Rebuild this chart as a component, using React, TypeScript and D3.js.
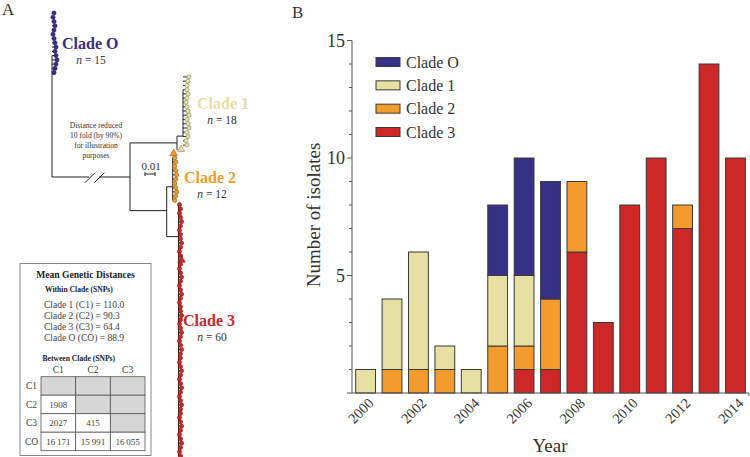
import React from 'react'
import * as d3 from 'd3'

// panel B data
const years = [2000, 2001, 2002, 2003, 2004, 2005, 2006, 2007, 2008, 2009, 2010, 2011, 2012, 2013, 2014]
const cladeO = [0, 0, 0, 0, 0, 3, 5, 5, 0, 0, 0, 0, 0, 0, 0]
const clade1 = [1, 3, 5, 1, 1, 3, 3, 0, 0, 0, 0, 0, 0, 0, 0]
const clade2 = [0, 1, 1, 1, 0, 2, 1, 3, 3, 0, 0, 0, 1, 0, 0]
const clade3 = [0, 0, 0, 0, 0, 0, 1, 1, 6, 3, 8, 10, 7, 14, 10]
const yTicks = [5, 10, 15]
const xTickYears = [2000, 2002, 2004, 2006, 2008, 2010, 2012, 2014]

// panel A data
const cladeNames = ['Clade O', 'Clade 1', 'Clade 2', 'Clade 3']
const cladeN = [15, 18, 12, 60]
const cladeStem = [0.0, 0.131, 0.1207, 0.1265] // distance of each clade's stem
const tipsO = [0.001, 0.0, 0.001, 0.002, 0.001, 0.0, 0.001, 0.002, 0.003, 0.002, 0.003, 0.004, 0.003, 0.002, 0.001]
const tips1 = [0.005, 0.004, 0.003, 0.003, 0.004, 0.003, 0.002, 0.003, 0.004, 0.005, 0.003, 0.004, 0.005, 0.003, 0.004, 0.002, 0.003, -0.003]
const tips2 = [0.0, 0.001, 0.002, 0.001, 0.002, 0.003, 0.002, 0.001, 0.002, 0.003, 0.002, 0.001]
const tips3 = [
  0.0, 0.001, 0.0, 0.001, 0.002, 0.001, 0.0, 0.001, 0.001, 0.002, 0.001, 0.0, 0.001, 0.002, 0.001,
  0.0, 0.001, 0.002, 0.001, 0.0, 0.001, 0.002, 0.001, 0.0, 0.001, 0.001, 0.002, 0.001, 0.0, 0.001,
  0.002, 0.001, 0.0, 0.001, 0.002, 0.001, 0.001, 0.0, 0.001, 0.002, 0.001, 0.0, 0.001, 0.002, 0.001,
  0.0, 0.001, 0.002, 0.001, 0.001, 0.0, 0.001, 0.002, 0.001, 0.0, 0.001, 0.002, 0.001, 0.0, 0.001,
]
const triangleTips = [32, 33, 58]
// internal branches: [dist1, idx1, dist2, idx2]
const branches = [
  [0.0, 10, 0.0, 38.5],
  [0.0, 38.5, 0.037, 38.5],
  [0.047, 38.5, 0.078, 38.5],
  [0.078, 30.5, 0.078, 46.4],
  [0.078, 30.5, 0.125, 30.5],
  [0.125, 28.9, 0.125, 32.2],
  [0.125, 28.9, 0.131, 28.9],
  [0.131, 18, 0.131, 28.9],
  [0.078, 46.4, 0.1147, 46.4],
  [0.1147, 40.8, 0.1147, 52.5],
  [0.1147, 40.8, 0.1207, 40.8],
  [0.1207, 34, 0.1207, 44],
  [0.1147, 52.5, 0.1265, 52.5],
  [0.1265, 45, 0.1265, 104],
]
const withinLabels = ['Clade 1 (C1) = 110.0', 'Clade 2 (C2) = 90.3', 'Clade 3 (C3) = 64.4', 'Clade O (CO) = 88.9']
const tableCols = ['C1', 'C2', 'C3']
const tableRows = ['C1', 'C2', 'C3', 'CO']
const tableValues = [
  [null, null, null],
  ['1908', null, null],
  ['2027', '415', null],
  ['16\u2009171', '15\u2009991', '16\u2009055'],
]

const colors = ['#382f86', '#e6e0a2', '#f39c2d', '#cc2828']
const tipStroke = ['#1d1850', '#8a8660', '#8a5a18', '#7a1515']
const serif = 'Liberation Serif'

const App = () => {
  const width = 750
  const height = 457

  // ---- panel B
  const x = d3.scaleBand<number>().domain(years).range([352, 749]).paddingInner(0.25).paddingOuter(0.14)
  const y = d3.scaleLinear().domain([0, 15]).range([393, 40.5])
  const table = years.map((yr, i) => ({ year: yr, c3: clade3[i], c2: clade2[i], c1: clade1[i], cO: cladeO[i] }))
  const keys = ['c3', 'c2', 'c1', 'cO']
  const keyColor = [colors[3], colors[2], colors[1], colors[0]]
  const series = d3.stack<any>().keys(keys)(table)
  const legend = [0, 1, 2, 3]
  const legendY = d3.scalePoint<number>().domain(legend).range([62, 132])

  // ---- panel A
  const tx = d3.scaleLinear().domain([0, 0.14]).range([52, 192])
  const ty = d3.scaleLinear().domain([0, 104]).range([13, 456])
  const tipLists = [tipsO, tips1, tips2, tips3]
  let idx = 0
  const tips: { c: number; i: number; d: number }[] = []
  tipLists.forEach((list, c) => {
    list.forEach((off) => {
      tips.push({ c, i: idx, d: cladeStem[c] + off })
      idx++
    })
  })

  const cellX = d3.scaleBand<number>().domain([0, 1, 2]).range([41, 145])
  const cellY = d3.scaleBand<number>().domain([0, 1, 2, 3]).range([376.7, 450.7])

  // label anchors for the clade names (start x, baseline y) and the n = .. line centre
  const cladeLabelPos = [
    [62, 49, 91],
    [197, 109, 222],
    [184, 183, 212],
    [183, 326, 212],
  ]

  return (
    <svg width={width} height={height} style={{ position: 'absolute', left: 0, top: 0, fontFamily: serif }}>
      <rect width={width} height={height} fill="#fff" />
      <text x={2} y={15} fontSize={17} fill="#333">A</text>
      <text x={292} y={18} fontSize={17} fill="#333">B</text>

      {/* tree */}
      <g stroke="#222" strokeWidth={1} fill="none">
        {branches.map((b, i) => (
          <line key={i} x1={tx(b[0])} y1={ty(b[1])} x2={tx(b[2])} y2={ty(b[3])} />
        ))}
        {tips.map((t) => (
          <line key={'b' + t.i} x1={tx(cladeStem[t.c])} x2={tx(t.d)} y1={ty(t.i)} y2={ty(t.i)} />
        ))}
        <line x1={85} y1={182.7} x2={95} y2={172.7} />
        <line x1={94.3} y1={182.7} x2={104.3} y2={172.7} />
      </g>
      {tips.map((t) =>
        triangleTips.includes(t.i) ? (
          <path
            key={t.i}
            d={d3.symbol(d3.symbolTriangle, 24)() as string}
            transform={`translate(${tx(t.d) + 1},${ty(t.i)})`}
            fill={colors[t.c]}
            stroke={tipStroke[t.c]}
            strokeWidth={0.6}
          />
        ) : (
          <circle key={t.i} cx={tx(t.d) + 1} cy={ty(t.i)} r={2.1} fill={colors[t.c]} stroke={tipStroke[t.c]} strokeWidth={0.6} />
        )
      )}
      {/* clade labels */}
      {cladeNames.map((name, c) => {
        const pos = cladeLabelPos[c]
        return (
          <g key={name}>
            <text x={pos[0]} y={pos[1]} fontSize={16} fontWeight="bold" fill={colors[c]}>
              {name}
            </text>
            <text x={pos[2]} y={pos[1] + 14.5} textAnchor="middle" fontSize={11.5} fill="#333">
              <tspan fontStyle="italic">n</tspan> = {cladeN[c]}
            </text>
          </g>
        )
      })}
      <g fontSize={7.6} fill="#333" textAnchor="middle">
        <text x={96} y={128}>Distance reduced</text>
        <text x={96} y={138}>10 fold (by 90%)</text>
        <text x={96} y={148}>for illustration</text>
        <text x={96} y={158}>purposes</text>
      </g>
      <text x={151} y={170} fontSize={11} fill="#333" textAnchor="middle">0.01</text>
      <g stroke="#222" strokeWidth={1}>
        <line x1={tx(0.093)} x2={tx(0.103)} y1={174} y2={174} />
        <line x1={tx(0.093)} x2={tx(0.093)} y1={172} y2={176} />
        <line x1={tx(0.103)} x2={tx(0.103)} y1={172} y2={176} />
      </g>

      {/* distance table */}
      <rect x={20} y={263.5} width={131} height={192} fill="#fff" stroke="#888" strokeWidth={1} />
      <text x={85.5} y={278} textAnchor="middle" fontSize={9.6} fontWeight="bold" fill="#222">Mean Genetic Distances</text>
      <text x={45} y={292} fontSize={7.6} fontWeight="bold" fill="#222">Within Clade (SNPs)</text>
      {withinLabels.map((l, i) => (
        <text key={l} x={44} y={307.5 + i * 11.2} fontSize={9.5} fill="#444">{l}</text>
      ))}
      <text x={42.5} y={361} fontSize={7.6} fontWeight="bold" fill="#222">Between Clade (SNPs)</text>
      {tableCols.map((c, j) => (
        <text key={c} x={(cellX(j) as number) + cellX.bandwidth() / 2} y={373} textAnchor="middle" fontSize={9.5} fill="#444">{c}</text>
      ))}
      {tableRows.map((r, i) => (
        <text key={r} x={31.5} y={(cellY(i) as number) + cellY.bandwidth() / 2 + 3.3} textAnchor="middle" fontSize={9.5} fill="#444">{r}</text>
      ))}
      {tableRows.map((r, i) =>
        tableCols.map((c, j) => (
          <g key={r + c}>
            <rect
              x={cellX(j)}
              y={cellY(i)}
              width={cellX.bandwidth()}
              height={cellY.bandwidth()}
              fill={tableValues[i][j] === null ? '#d6d6d6' : '#fff'}
              stroke="#555"
              strokeWidth={0.8}
            />
            {tableValues[i][j] !== null && (
              <text x={(cellX(j) as number) + cellX.bandwidth() / 2} y={(cellY(i) as number) + cellY.bandwidth() / 2 + 3.3} textAnchor="middle" fontSize={9} fill="#444">
                {tableValues[i][j]}
              </text>
            )}
          </g>
        ))
      )}

      {/* bars */}
      {series.map((s, k) => (
        <g key={s.key} fill={keyColor[k]} stroke="#3a3a3a" strokeWidth={1}>
          {s.map((d, i) =>
            d[1] > d[0] ? (
              <rect key={i} x={x(years[i])} y={y(d[1])} width={x.bandwidth()} height={y(d[0]) - y(d[1])} />
            ) : null
          )}
        </g>
      ))}

      {/* axes */}
      <g stroke="#555" strokeWidth={1}>
        <line x1={352} x2={352} y1={y(15)} y2={y(0)} />
        <line x1={352} x2={749} y1={y(0)} y2={y(0)} />
        <line x1={749} x2={749} y1={y(0)} y2={y(0) + 3} />
        {d3.range(0, 16).map((v) => (
          <line key={v} x1={v % 5 === 0 ? 347 : 349} x2={352} y1={y(v)} y2={y(v)} />
        ))}
      </g>
      {yTicks.map((v) => (
        <text key={v} x={345} y={y(v) + 6} textAnchor="end" fontSize={18} fill="#333">{v}</text>
      ))}
      {xTickYears.map((yr) => (
        <text
          key={yr}
          transform={`translate(${(x(yr) as number) + x.bandwidth() / 2 + 9},${404}) rotate(-45)`}
          textAnchor="end"
          fontSize={14.5}
          fill="#333"
        >
          {yr}
        </text>
      ))}
      <text x={550} y={452} textAnchor="middle" fontSize={19} fill="#333">Year</text>
      <text transform="translate(320,215) rotate(-90)" textAnchor="middle" fontSize={19} fill="#333">Number of isolates</text>

      {/* legend */}
      {legend.map((c) => (
        <g key={c}>
          <rect x={376} y={(legendY(c) as number) - 4.5} width={24} height={9} fill={colors[c]} stroke="#3a3a3a" strokeWidth={1} />
          <text x={406} y={(legendY(c) as number) + 5.5} fontSize={16} fill="#333">{cladeNames[c]}</text>
        </g>
      ))}
    </svg>
  )
}

export default App
